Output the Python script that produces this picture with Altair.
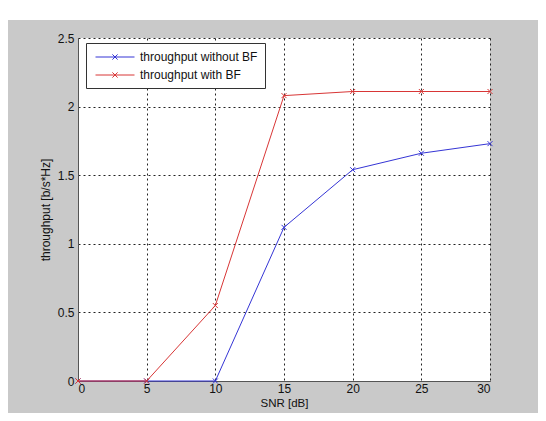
import altair as alt
import pandas as pd

snr = [0, 5, 10, 15, 20, 25, 30]
thr_nobf = [0, 0, 0, 1.12, 1.54, 1.66, 1.73]
thr_bf = [0, 0, 0.55, 2.08, 2.11, 2.11, 2.11]
series = ["throughput without BF", "throughput with BF"]
colors = ["#3535d5", "#d83636"]
x_ticks = [0, 5, 10, 15, 20, 25, 30]
y_ticks = [0, 0.5, 1, 1.5, 2, 2.5]
title_text = "Throughput noBF vs. BF. Modulation scheme:16QAM. ECR:1/3"

rows = []
for s, vals in zip(series, [thr_nobf, thr_bf]):
    for x, y in zip(snr, vals):
        rows.append({"snr": x, "thr": y, "series": s})
df = pd.DataFrame(rows)

W, H = 412, 343
PL, PT, PR, PB = 70, 30, 48, 32

xenc = alt.X("snr:Q", scale=alt.Scale(domain=[0, 30], nice=False),
             axis=alt.Axis(values=x_ticks, title="SNR [dB]", format="d"))
yenc = alt.Y("thr:Q", scale=alt.Scale(domain=[0, 2.5], nice=False),
             axis=alt.Axis(values=y_ticks, title="throughput [b/s*Hz]", format="~g"))

legend = alt.Legend(
    title=None, orient="none", legendX=8, legendY=5,
    symbolType="M-3,0L3,0M-0.4,-0.4L0.4,0.4M-0.4,0.4L0.4,-0.4",
    symbolSize=169, symbolStrokeWidth=1, symbolOffset=15, labelOffset=18,
    rowPadding=5, padding=7, fillColor="white", strokeColor="#333333",
    labelFont="Liberation Sans", labelFontSize=12, labelColor="#111111",
    labelLimit=300,
)
color = alt.Color("series:N", scale=alt.Scale(domain=series, range=colors), legend=legend)

base = alt.Chart(df)

strip = alt.Chart(pd.DataFrame({"a": [0]})).mark_rect(color="white", clip=False).encode(
    x=alt.value(-PL), x2=alt.value(W + PR), y=alt.value(-PT), y2=alt.value(-PT + 12)
)

layers = [strip]
for s in series:
    sub = base.transform_filter(alt.datum.series == s)
    layers.append(sub.mark_line(strokeWidth=1, clip=False).encode(x=xenc, y=yenc, color=color))
    layers.append(sub.mark_point(shape="M-1,-1L1,1M-1,1L1,-1", size=25, filled=False,
                                 strokeWidth=1, clip=False, opacity=1).encode(x=xenc, y=yenc, color=color))

chart = alt.layer(*layers).properties(
    width=W, height=H,
    title=alt.Title(title_text, fontSize=12, fontWeight="normal", font="Liberation Sans",
                    color="#111111", offset=5),
    background="#c9c9c9",
    padding={"left": PL, "top": PT, "right": PR, "bottom": PB},
    autosize=alt.AutoSizeParams(type="none"),
).configure_view(stroke=None, fill="white").configure_axis(
    grid=True, gridColor="#222222", gridDash=[2, 3], gridOpacity=1, gridWidth=1,
    domainColor="#555555", domainWidth=1, ticks=False,
    labelFont="Liberation Sans", labelFontSize=12, labelColor="#111111",
    titleFont="Liberation Sans", titleFontSize=12, titleFontWeight="normal", titleColor="#111111",
).configure_axisX(labelPadding=2, titlePadding=3, titleFontSize=11.5).configure_axisY(labelPadding=4, titlePadding=5)

chart.save("out.html", embed_options={"renderer": "svg", "actions": False})
